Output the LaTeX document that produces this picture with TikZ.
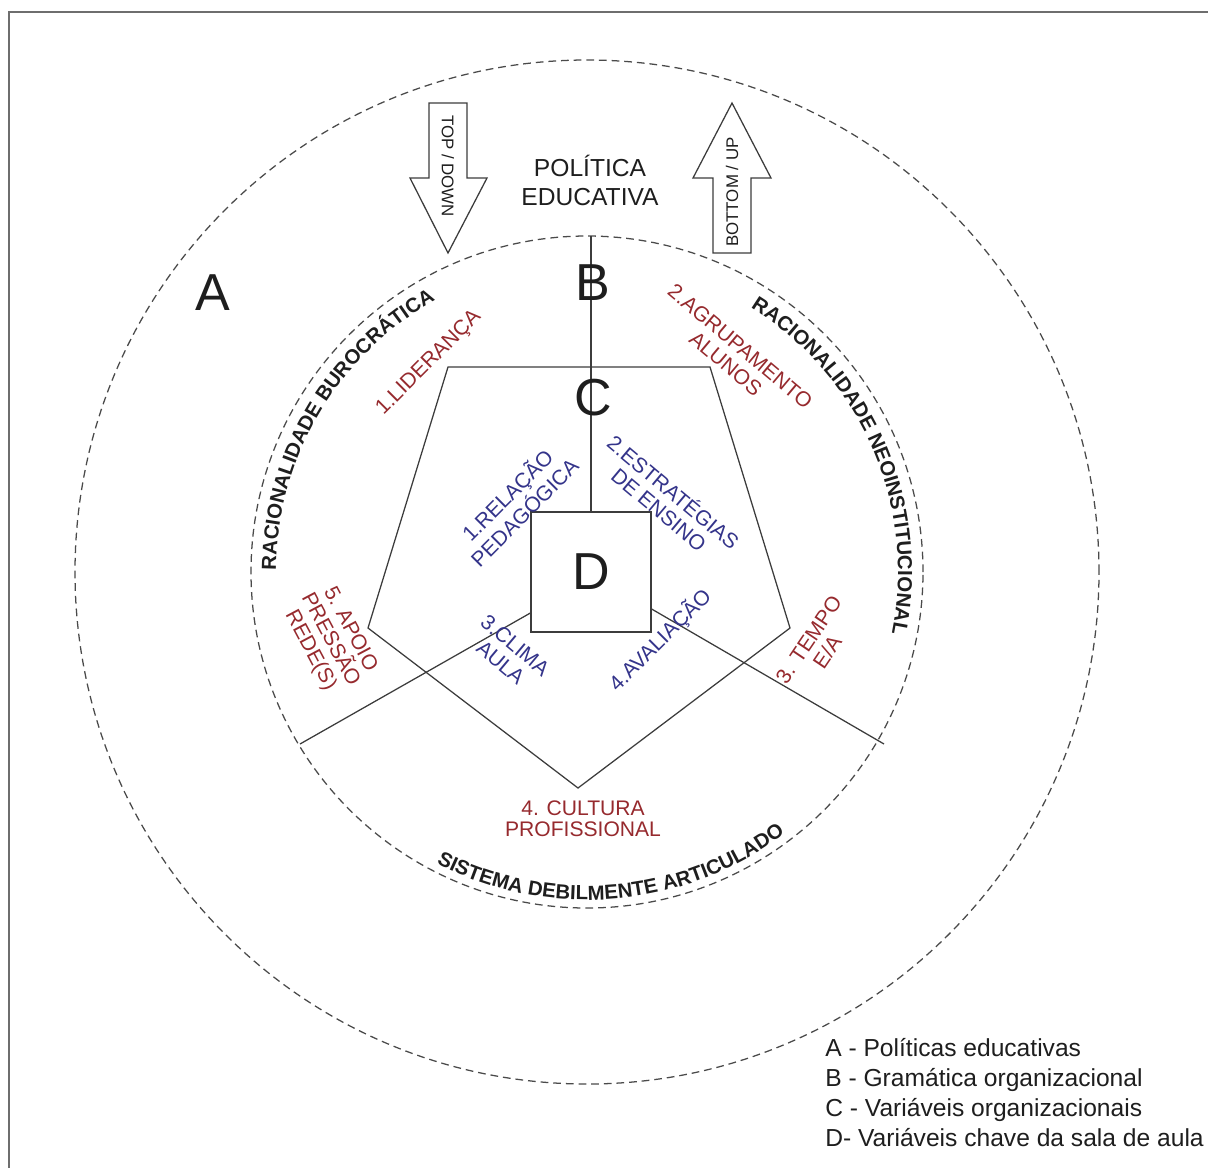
\documentclass[tikz,border=0pt]{standalone}
\usepackage{fontspec}
\setmainfont{Liberation Sans}
\usepackage{tikz}
\usetikzlibrary{calc, decorations.text}

\definecolor{Ink}{HTML}{1E1E1E}
\definecolor{LineGray}{HTML}{3C3C3C}
\definecolor{DashGray}{HTML}{4A4A4A}
\definecolor{FrameGray}{HTML}{6E6E6E}
\definecolor{RedTxt}{HTML}{962A2E}
\definecolor{BlueTxt}{HTML}{34348A}

\newcommand{\arcfont}{\bfseries\fontsize{14.5}{14.5}\selectfont}

\tikzset{
  frameBox/.style={draw=FrameGray, line width=1.4pt},
  ringDash/.style={draw=DashGray, line width=0.9pt, dash pattern=on 5.5pt off 3.5pt},
  varLine/.style={draw=LineGray, line width=0.9pt},
  blockArr/.style={draw=LineGray, line width=0.9pt, fill=white, line join=miter},
  bigLetter/.style={font=\fontsize{37}{37}\selectfont, text=Ink, inner sep=0pt},
  varRed/.style={text=RedTxt, font=\fontsize{15}{16}\selectfont, align=center, inner sep=0pt},
  varBlue/.style={text=BlueTxt, font=\fontsize{15}{16}\selectfont, align=center, inner sep=0pt},
  arrLabel/.style={font=\fontsize{12}{12}\selectfont, text=Ink, inner sep=0pt},
  arcText/.style={decorate, decoration={text along path, text align=center,
    text color=Ink, text={|\arcfont|#1}}},
}

\begin{document}
\begin{tikzpicture}[x=0.025cm, y=0.025cm]
\useasboundingbox (0,0) rectangle (1208,-1167);
\draw[frameBox] (9,-12) rectangle (1230,-1190);

\coordinate (ctr) at (587,-572);
\draw[ringDash] (ctr) circle[radius=512];
\draw[ringDash] (ctr) circle[radius=336];

\draw[blockArr] (429,-103) -- (467,-103) -- (467,-178) -- (487,-178) -- (448,-253)
  -- (410,-178) -- (429,-178) -- cycle;
\draw[blockArr] (732,-103) -- (771,-178) -- (751,-178) -- (751,-253) -- (713,-253)
  -- (713,-178) -- (693,-178) -- cycle;
\node[arrLabel, rotate=-90] (topdown) at (448,-166) {TOP / DOWN};
\node[arrLabel, rotate=90] (bottomup) at (732,-192) {BOTTOM / UP};

\node[font=\fontsize{17.5}{20.6}\selectfont, text=Ink, align=center] (polit) at (590,-180) {POLÍTICA\\EDUCATIVA};

\draw[varLine] (448,-367) -- (710,-367) -- (790,-628) -- (578,-788) -- (368,-628) -- cycle;

\node[draw=LineGray, line width=0.9pt, minimum size=3cm, inner sep=0pt,
  font=\fontsize{37}{37}\selectfont, text=Ink] (dbox) at (591,-572) {D};

\coordinate (btop) at ($(ctr)+(90:336)$);
\coordinate (endL) at (300,-744);
\coordinate (endR) at (884,-744);
\draw[varLine] (dbox.north) -- (dbox.north |- btop);
\draw[varLine] ($(dbox.west)+(0,-41)$) -- (endL);
\draw[varLine] ($(dbox.east)+(0,-37)$) -- (endR);

\node[bigLetter] (la) at (213,-293) {A};
\node[bigLetter] (lb) at (593,-283) {B};
\node[bigLetter] (lc) at (593,-398) {C};

\path[arcText={RACIONALIDADE BUROCRÁTICA}] ($(ctr)+(219.4:311)$)
  arc[start angle=219.4, end angle=79.4, radius=311];
\path[arcText={RACIONALIDADE NEOINSTITUCIONAL}] ($(ctr)+(93.4:311)$)
  arc[start angle=93.4, end angle=-46.6, radius=311];
\path[arcText={SISTEMA DEBILMENTE ARTICULADO}] ($(ctr)+(204.9:328)$)
  arc[start angle=204.9, end angle=344.9, radius=328];

\node[varRed, rotate=45] (lid) at (429,-363) {1.LIDERANÇA};
\node[varRed, rotate=-40] (agr) at (733,-355) {2.AGRUPAMENTO\\ALUNOS};
\node[varRed, rotate=56] (tem) at (818,-646) {3. TEMPO\\E/A};
\node[varRed, font=\fontsize{15}{15}\selectfont] (cul) at (583,-819) {4. CULTURA\\PROFISSIONAL};
\node[varRed, rotate=-62] (apo) at (330,-640) {5. APOIO\\PRESSÃO\\REDE(S)};

\node[varBlue, rotate=45] (rel) at (515,-503) {1.RELAÇÃO\\PEDAGÓGICA};
\node[varBlue, rotate=-40] (est) at (667,-500) {2.ESTRATÉGIAS\\DE ENSINO};
\node[varBlue, rotate=-40] (cli) at (508,-654) {3.CLIMA\\AULA};
\node[varBlue, rotate=45] (ava) at (660,-640) {4.AVALIAÇÃO};

\node[anchor=north west, align=left, inner sep=0pt, text=Ink,
  font=\fontsize{17.5}{21.3}\selectfont] (legend) at (825,-1038)
  {A - Políticas educativas\\B - Gramática organizacional\\C - Variáveis organizacionais\\D- Variáveis chave da sala de aula};
\end{tikzpicture}
\end{document}
